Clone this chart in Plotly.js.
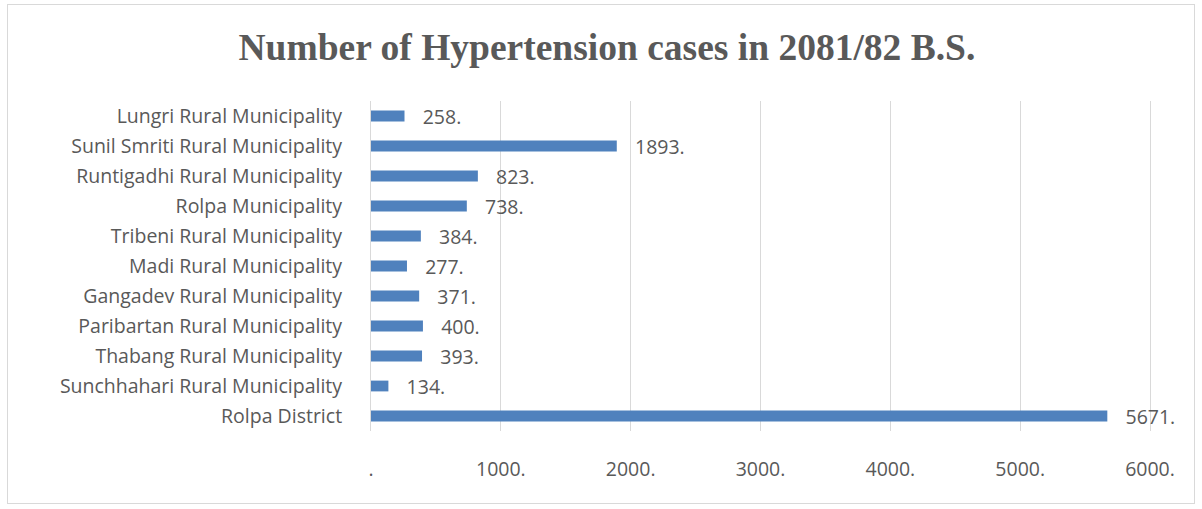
<!DOCTYPE html>
<html>
<head>
<meta charset="utf-8">
<script src="https://cdn.plot.ly/plotly-3.0.1.min.js"></script>
<style>
  html, body { margin: 0; padding: 0; background: #ffffff; }
  #chart { position: absolute; left: 7px; top: 4px; width: 1188px; height: 500px; border: 1px solid #d9d9d9; box-sizing: border-box; }
</style>
</head>
<body>
<div id="chart"></div>
<script>
const categories = [
  "Rolpa District",
  "Sunchhahari Rural Municipality",
  "Thabang Rural Municipality",
  "Paribartan Rural Municipality",
  "Gangadev Rural Municipality",
  "Madi Rural Municipality",
  "Tribeni Rural Municipality",
  "Rolpa Municipality",
  "Runtigadhi Rural Municipality",
  "Sunil Smriti Rural Municipality",
  "Lungri Rural Municipality"
];
const cases = [5671, 134, 393, 400, 371, 277, 384, 738, 823, 1893, 258];
const tickValues = [0, 1000, 2000, 3000, 4000, 5000, 6000];
const tickLabels = [".", "1000.", "2000.", "3000.", "4000.", "5000.", "6000."];
const titleText = "Number of Hypertension cases in 2081/82 B.S.";

const labelFont = { family: "'Open Sans', Lato, sans-serif", size: 19.5, color: "#595959" };

const trace = {
  type: "bar",
  orientation: "h",
  y: categories,
  x: cases,
  width: 0.36,
  marker: { color: "#4f81bd", line: { width: 0 } },
  text: cases.map(v => "\u00a0\u00a0\u00a0" + v + "."),
  textposition: "outside",
  constraintext: "none",
  textfont: labelFont,
  cliponaxis: false,
  hoverinfo: "x+y"
};

const layout = {
  width: 1186,
  height: 498,
  margin: { l: 363, r: 18, t: 96, b: 72, pad: 0 },
  paper_bgcolor: "#ffffff",
  plot_bgcolor: "#ffffff",
  showlegend: false,
  title: {
    text: "<b>" + titleText + "</b>",
    font: { family: "'Liberation Serif', 'Times New Roman', serif", size: 37.5, color: "#595959" },
    x: 0.505, xanchor: "center",
    y: 0.916, yanchor: "middle"
  },
  xaxis: {
    range: [0, 6200],
    tickvals: tickValues,
    ticktext: tickLabels,
    showgrid: true,
    gridcolor: "#d9d9d9",
    gridwidth: 1,
    zeroline: false,
    showline: false,
    ticks: "",
    ticklabelstandoff: 24,
    tickfont: labelFont,
    fixedrange: true
  },
  yaxis: {
    type: "category",
    categoryorder: "array",
    categoryarray: categories,
    showline: true,
    linecolor: "#d9d9d9",
    linewidth: 1,
    showgrid: false,
    zeroline: false,
    ticks: "",
    ticklabelstandoff: 24,
    tickfont: labelFont,
    fixedrange: true
  },
  bargap: 0.64
};

Plotly.newPlot("chart", [trace], layout, { displayModeBar: false, staticPlot: true });
</script>
</body>
</html>
